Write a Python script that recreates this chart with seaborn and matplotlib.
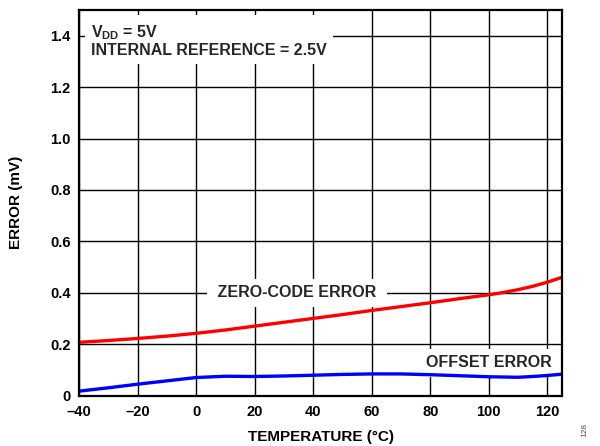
import matplotlib
matplotlib.use("Agg")
import matplotlib.pyplot as plt
import seaborn as sns
import pandas as pd

# ---- data ----
temperature = [-40, -30, -20, -10, 0, 10, 20, 30, 40, 50, 60, 70, 80, 90, 100, 105, 110, 115, 120, 125]
zero_code_error = [0.207, 0.214, 0.222, 0.231, 0.242, 0.255, 0.270, 0.285, 0.300, 0.315,
                   0.331, 0.346, 0.361, 0.377, 0.392, 0.401, 0.412, 0.425, 0.441, 0.460]
offset_error = [0.017, 0.030, 0.044, 0.057, 0.070, 0.075, 0.074, 0.076, 0.079, 0.082,
                0.084, 0.084, 0.081, 0.077, 0.073, 0.072, 0.071, 0.074, 0.078, 0.083]
x_ticks = [-40, -20, 0, 20, 40, 60, 80, 100, 120]
x_tick_labels = ["–40", "–20", "0", "20", "40", "60", "80", "100", "120"]
y_ticks = [0, 0.2, 0.4, 0.6, 0.8, 1.0, 1.2, 1.4]
y_tick_labels = ["0", "0.2", "0.4", "0.6", "0.8", "1.0", "1.2", "1.4"]

df = pd.DataFrame({"temp": temperature, "zero": zero_code_error, "offset": offset_error})

sns.set_theme(style="white")
plt.rcParams["font.family"] = ["Liberation Sans", "DejaVu Sans"]
plt.rcParams["font.weight"] = "bold"
plt.rcParams["mathtext.fontset"] = "custom"
plt.rcParams["mathtext.rm"] = "Liberation Sans:bold"
plt.rcParams["mathtext.bf"] = "Liberation Sans:bold"

fig = plt.figure(figsize=(6, 4.46), dpi=100)
ax = fig.add_axes([0.1317, 0.1132, 0.805, 0.8643])

sns.lineplot(data=df, x="temp", y="zero", ax=ax, color="#ff0000", linewidth=2.4, zorder=5)
sns.lineplot(data=df, x="temp", y="offset", ax=ax, color="#0000ff", linewidth=2.4, zorder=5)

ax.set_xlim(-40, 125)
ax.set_ylim(0, 1.5)
ax.set_xticks(x_ticks)
ax.set_xticklabels(x_tick_labels, fontsize=10.5, fontweight="bold")
ax.set_yticks(y_ticks)
ax.set_yticklabels(y_tick_labels, fontsize=10.5, fontweight="bold")
ax.tick_params(axis="both", length=0, colors="black")
ax.tick_params(axis="x", pad=7)
ax.tick_params(axis="y", pad=6)

ax.grid(True, color="black", linewidth=1.0)
ax.set_axisbelow(True)
for s in ax.spines.values():
    s.set_color("black")
    s.set_linewidth(1.6)
    s.set_zorder(6)

ax.set_xlabel("TEMPERATURE (°C)", fontsize=11, fontweight="bold", color="black")
ax.set_ylabel("ERROR (mV)", fontsize=11, fontweight="bold", color="black")
ax.xaxis.set_label_coords(0.502, -0.09)
ax.yaxis.set_label_coords(-0.116, 0.5)

box = dict(facecolor="white", edgecolor="none", boxstyle="square,pad=0.4")
ax.text(0.025, 0.965, "V$_{\\mathbf{DD}}$ = 5V\nINTERNAL REFERENCE = 2.5V",
        transform=ax.transAxes, ha="left", va="top", fontsize=11.5,
        fontweight="bold", linespacing=1.05, bbox=box, zorder=4)
ax.text(34.4, 0.4, " ZERO-CODE ERROR ", ha="center", va="center", fontsize=11.5,
        fontweight="bold", bbox=box, zorder=4)
ax.text(100, 0.128, "OFFSET ERROR", ha="center", va="center", fontsize=11.5,
        fontweight="bold", bbox=box, zorder=4)

fig.text(0.975, 0.02, "128", rotation=90, fontsize=6, color="#555555",
         fontweight="normal", ha="center", va="bottom")

fig.savefig("out.png", dpi=100, facecolor="white")
